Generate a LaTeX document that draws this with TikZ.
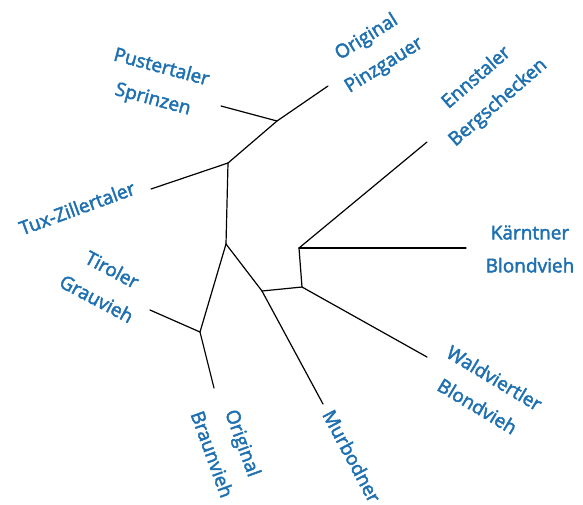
\documentclass[tikz,border=0pt]{standalone}
\usepackage{fontspec}
\setmainfont{Open Sans}
\definecolor{lbl}{RGB}{30,112,176}
\newcommand{\heavytext}{\special{pdf:literal direct 2 Tr 0.45 w}}
\begin{document}
\begin{tikzpicture}[x=1pt,y=-1pt,
  edge/.style={line width=1.2pt, black, line cap=round, line join=round},
  lab/.style={text=lbl, font=\fontsize{19}{33}\selectfont, align=center, inner sep=0pt,
    execute at begin node=\heavytext}]
\useasboundingbox (0,0) rectangle (583,504);
% junctions
\coordinate (jA) at (277,121);
\coordinate (jB) at (228,163);
\coordinate (jC) at (226,244);
\coordinate (jD) at (200,332);
\coordinate (jE) at (262,291);
\coordinate (jF) at (302,287);
\coordinate (jG) at (299,248);
% leaves
\coordinate (lPust) at (221,106);
\coordinate (lPinz) at (328,86);
\coordinate (lTux) at (151,189);
\coordinate (lTir) at (150,310);
\coordinate (lBrau) at (214,388);
\coordinate (lMur) at (323,404);
\coordinate (lEnns) at (427,142);
\coordinate (lKaer) at (466,248);
\coordinate (lWald) at (427,357);
% edges
\draw[edge] (lPust) -- (jA);
\draw[edge] (lPinz) -- (jA);
\draw[edge] (jA) -- (jB);
\draw[edge] (lTux) -- (jB);
\draw[edge] (jB) -- (jC);
\draw[edge] (jC) -- (jD);
\draw[edge] (lTir) -- (jD);
\draw[edge] (jD) -- (lBrau);
\draw[edge] (jC) -- (jE);
\draw[edge] (jE) -- (lMur);
\draw[edge] (jE) -- (jF);
\draw[edge] (jF) -- (jG);
\draw[edge] (jG) -- (lEnns);
\draw[edge] (jG) -- (lKaer);
\draw[edge] (jF) -- (lWald);
% labels
\node[lab, rotate=-15] (tPust) at (157,84) {Pustertaler\\Sprinzen};
\node[lab, rotate=32] (tPinz) at (375.5,51.5) {Original\\Pinzgauer};
\node[lab, rotate=41] (tEnns) at (487.5,90.5) {Ennstaler\\Bergschecken};
\node[lab] (tKaer) at (530,249) {Kärntner\\Blondvieh};
\node[lab, rotate=-31] (tWald) at (486,392) {Waldviertler\\Blondvieh};
\node[lab, rotate=-62] (tMur) at (352,456) {Murbodner};
\node[lab, rotate=-70] (tBrau) at (228,448.5) {Original\\Braunvieh};
\node[lab, rotate=-28] (tTir) at (104.5,284) {Tiroler\\Grauvieh};
\node[lab, rotate=20] (tTux) at (77,208) {Tux-Zillertaler};
\end{tikzpicture}
\end{document}
